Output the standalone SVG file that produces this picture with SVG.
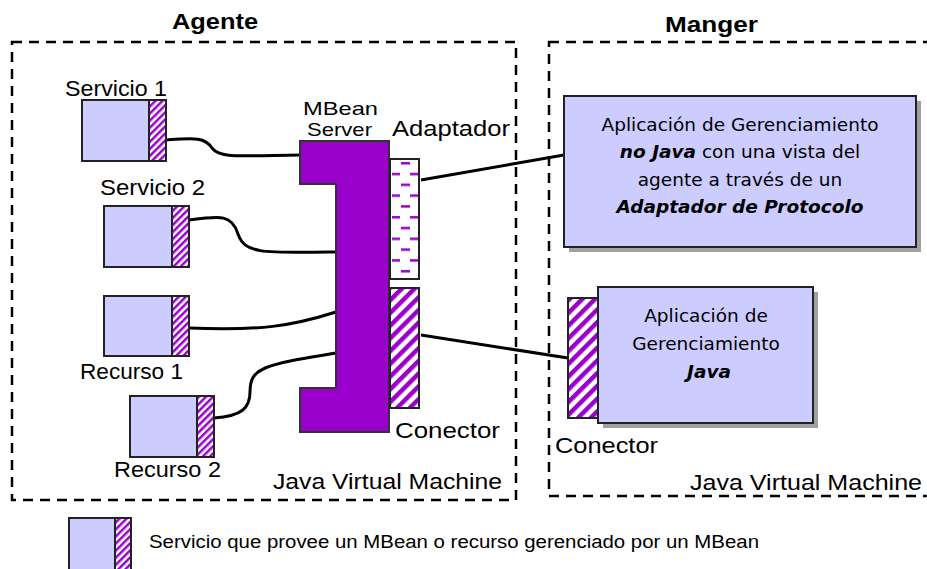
<svg xmlns="http://www.w3.org/2000/svg" width="927" height="569" viewBox="0 0 927 569">
<style>
.bg{fill:#ffffff}
.frame{fill:none;stroke:#000;stroke-width:2.5;stroke-dasharray:10 7}
.title{font-family:"Liberation Sans",Arial,sans-serif;font-weight:bold;font-size:22px;fill:#000}
.lbl{font-family:"Liberation Sans",Arial,sans-serif;font-size:22px;fill:#000}
.sm{font-size:19px}
.app{font-family:"DejaVu Sans","Liberation Sans",sans-serif;font-size:18.5px;fill:#000;text-anchor:middle}
.bi{font-weight:bold;font-style:italic}
.leg{font-family:"Liberation Sans",Arial,sans-serif;font-size:18px;fill:#000}
.blue{fill:#ccccff;stroke:#222;stroke-width:2}
.hs{fill:url(#hatchS);stroke:#222;stroke-width:2}
.hl{fill:url(#hatchL);stroke:#222;stroke-width:2}
.dash{fill:url(#dashP);stroke:#222;stroke-width:2}
.shadow{fill:#a0a0a0}
.wire{fill:none;stroke:#000;stroke-width:3}
.mbs{fill:#9900cc;stroke:#333;stroke-width:2}
</style>
<defs>
<pattern id="hatchS" patternUnits="userSpaceOnUse" width="5" height="5" patternTransform="rotate(45)">
<rect x="0" y="0" width="5" height="5" fill="#ffffff"/>
<rect x="0" y="0" width="2.5" height="5" fill="#9900cc"/>
</pattern>
<pattern id="hatchL" patternUnits="userSpaceOnUse" width="9" height="9" patternTransform="rotate(45)">
<rect x="0" y="0" width="9" height="9" fill="#ffffff"/>
<rect x="0" y="0" width="4.5" height="9" fill="#9900cc"/>
</pattern>
<pattern id="dashP" patternUnits="userSpaceOnUse" x="390" y="159" width="29" height="21.6">
<rect x="0" y="0" width="29" height="21.6" fill="#ffffff"/>
<rect x="11" y="3" width="9" height="2.5" fill="#9900cc"/>
<rect x="2" y="13.8" width="8" height="2.5" fill="#9900cc"/>
<rect x="20" y="13.8" width="8" height="2.5" fill="#9900cc"/>
</pattern>
</defs>
<rect class="bg" x="0" y="0" width="927" height="569"/>

<g id="agente-frame">
<rect class="frame" x="12" y="42" width="504" height="458"/>
<text class="title" x="172" y="29" textLength="86" lengthAdjust="spacingAndGlyphs">Agente</text>
<text class="lbl" x="273" y="489" textLength="229" lengthAdjust="spacingAndGlyphs">Java Virtual Machine</text>
</g>

<g id="manager-frame">
<rect class="frame" x="549" y="42" width="390" height="454"/>
<text class="title" x="665" y="32" textLength="93" lengthAdjust="spacingAndGlyphs">Manger</text>
<text class="lbl" x="690" y="490" textLength="232" lengthAdjust="spacingAndGlyphs">Java Virtual Machine</text>
</g>

<g id="connectors">
<path class="wire" d="M166,140 C195,138 205,137 212,148 C220,158 232,156 300,155"/>
<path class="wire" d="M189,220 C220,216 232,214 238,234 C245,254 262,253 336,252"/>
<path class="wire" d="M189,328 C260,331 292,326 336,312"/>
<path class="wire" d="M214,418 C242,416 250,408 250,392 C250,368 262,365 336,353"/>
<path class="wire" d="M421,180 L564,155"/>
<path class="wire" d="M421,335 L568,358"/>
</g>

<g id="servicio1">
<rect class="blue" x="82" y="100" width="67" height="61"/>
<rect class="hs" x="149" y="100" width="17" height="61"/>
<text class="lbl" x="65" y="96" textLength="102" lengthAdjust="spacingAndGlyphs">Servicio 1</text>
</g>

<g id="servicio2">
<rect class="blue" x="104" y="206" width="68" height="61"/>
<rect class="hs" x="172" y="206" width="17" height="61"/>
<text class="lbl" x="100" y="195" textLength="105" lengthAdjust="spacingAndGlyphs">Servicio 2</text>
</g>

<g id="recurso1">
<rect class="blue" x="104" y="296" width="68" height="60"/>
<rect class="hs" x="172" y="296" width="17" height="60"/>
<text class="lbl" x="80" y="379" textLength="103" lengthAdjust="spacingAndGlyphs">Recurso 1</text>
</g>

<g id="recurso2">
<rect class="blue" x="130" y="396" width="67" height="61"/>
<rect class="hs" x="197" y="396" width="17" height="61"/>
<text class="lbl" x="114" y="477" textLength="107" lengthAdjust="spacingAndGlyphs">Recurso 2</text>
</g>

<g id="mbean-server">
<polygon class="mbs" points="300,141 389,141 389,432 300,432 300,388 336,388 336,184 300,184"/>
<text class="lbl sm" x="303" y="115" textLength="75" lengthAdjust="spacingAndGlyphs">MBean</text>
<text class="lbl sm" x="307" y="136" textLength="65" lengthAdjust="spacingAndGlyphs">Server</text>
</g>

<g id="adaptador">
<rect class="dash" x="390" y="159" width="29" height="120"/>
<text class="lbl" x="392" y="136" textLength="118" lengthAdjust="spacingAndGlyphs">Adaptador</text>
</g>

<g id="conector-agente">
<rect class="hl" x="390" y="288" width="29" height="120"/>
<text class="lbl" x="395" y="438" textLength="105" lengthAdjust="spacingAndGlyphs">Conector</text>
</g>

<g id="app-no-java">
<rect class="shadow" x="569" y="101" width="352" height="151"/>
<rect class="blue" x="564" y="96" width="352" height="151"/>
<text class="app" x="740" y="131">Aplicación de Gerenciamiento</text>
<text class="app" x="740" y="158"><tspan class="bi">no Java</tspan> con una vista del</text>
<text class="app" x="740" y="186">agente a través de un</text>
<text class="app bi" x="740" y="213">Adaptador de Protocolo</text>
</g>

<g id="app-java">
<rect class="shadow" x="603" y="292" width="215" height="136"/>
<rect class="blue" x="598" y="287" width="215" height="136"/>
<rect class="hl" x="568" y="298" width="30" height="120"/>
<text class="app" x="706" y="322">Aplicación de</text>
<text class="app" x="706" y="350">Gerenciamiento</text>
<text class="app bi" x="709" y="378">Java</text>
<text class="lbl" x="555" y="453" textLength="103" lengthAdjust="spacingAndGlyphs">Conector</text>
</g>

<g id="legend">
<rect class="blue" x="69" y="518" width="46" height="56"/>
<rect class="hs" x="115" y="518" width="16" height="56"/>
<text class="leg" x="149" y="548" textLength="610" lengthAdjust="spacingAndGlyphs">Servicio que provee un MBean o recurso gerenciado por un MBean</text>
</g>
</svg>
